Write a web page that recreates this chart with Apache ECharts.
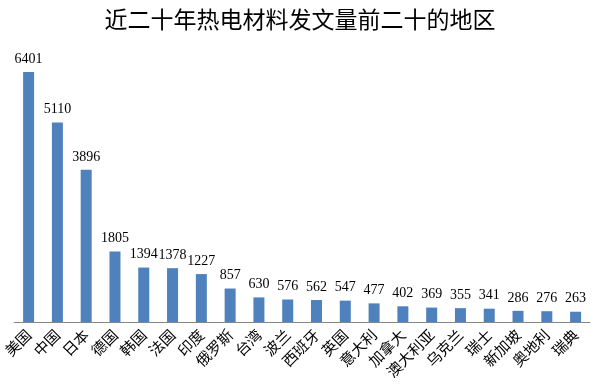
<!DOCTYPE html>
<html><head><meta charset="utf-8">
<script src="https://cdn.jsdelivr.net/npm/echarts@6/dist/echarts.min.js"></script>
<style>html,body{margin:0;padding:0;background:#fff}#c{width:600px;height:386px}</style>
</head><body><div id="c"></div>
<script>
const categories = ['美国','中国','日本','德国','韩国','法国','印度','俄罗斯','台湾','波兰','西班牙','英国','意大利','加拿大','澳大利亚','乌克兰','瑞士','新加坡','奥地利','瑞典'];
const values = [6401,5110,3896,1805,1394,1378,1227,857,630,576,562,547,477,402,369,355,341,286,276,263];
const chart = echarts.init(document.getElementById('c'));
chart.setOption({
  animation:false,
  backgroundColor:'#fff',
  title:{text:'近二十年热电材料发文量前二十的地区',left:'center',top:3,
    textStyle:{fontFamily:'Noto Sans CJK SC',fontSize:23,fontWeight:'normal',color:'#000'}},
  grid:{left:13,right:10,top:48.6,bottom:64},
  xAxis:{type:'category',data:categories,
    axisLine:{lineStyle:{color:'#868686'}},axisTick:{show:false},
    axisLabel:{rotate:45,interval:0,fontFamily:'Noto Sans CJK SC',fontSize:15,color:'#000',margin:10}},
  yAxis:{type:'value',min:0,max:7000,show:false,splitLine:{show:false}},
  series:[{type:'bar',data:values,barWidth:11,itemStyle:{color:'#4F81BD'},
    label:{show:true,position:'top',distance:6,fontFamily:'Liberation Serif',fontSize:14,color:'#000'}}]
});
</script></body></html>
